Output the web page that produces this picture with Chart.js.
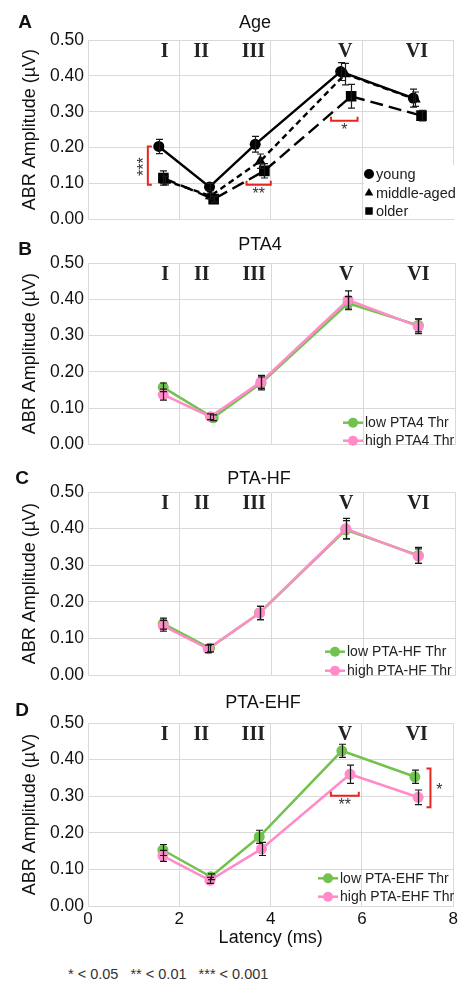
<!DOCTYPE html>
<html><head><meta charset="utf-8">
<script src="https://cdn.jsdelivr.net/npm/chart.js@4"></script>
<style>
body{margin:0;background:#fff;width:461px;height:983px;position:relative;overflow:hidden;font-family:"Liberation Sans",Arial,sans-serif;}
canvas{position:absolute;left:0;}
#note{position:absolute;left:68px;top:966px;font-size:14.5px;color:#333;white-space:pre;font-family:"Liberation Sans",Arial,sans-serif;}
</style></head><body>
<canvas id="cA" width="461" height="232" style="top:0px"></canvas>
<canvas id="cB" width="461" height="225" style="top:232px"></canvas>
<canvas id="cC" width="461" height="231" style="top:457px"></canvas>
<canvas id="cD" width="461" height="267" style="top:688px"></canvas>
<div id="note">* &lt; 0.05   ** &lt; 0.01   *** &lt; 0.001</div>
<script>
// ---- data ----
const peakLabels = ['I','II','III','V','VI'];
const peakLatency = [1.68, 2.48, 3.62, 5.63, 7.2];
const peakLabelLevel = 0.468;

// Panel A: Age
const youngX   = [1.55, 2.66, 3.66, 5.53, 7.12];
const youngY   = [0.203, 0.090, 0.209, 0.412, 0.338];
const youngErr = [0.020, 0.010, 0.022, 0.025, 0.025];
const middleX   = [1.69, 2.68, 3.77, 5.63, 7.16];
const middleY   = [0.108, 0.065, 0.162, 0.405, 0.335];
const middleErr = [0.012, 0.008, 0.020, 0.030, 0.020];
const olderX   = [1.65, 2.75, 3.86, 5.76, 7.30];
const olderY   = [0.115, 0.056, 0.135, 0.343, 0.289];
const olderErr = [0.020, 0.008, 0.020, 0.033, 0.015];

// Panel B: PTA4
const pta4LowX   = [1.64, 2.73, 3.77, 5.67, 7.20];
const pta4LowY   = [0.157, 0.073, 0.168, 0.389, 0.328];
const pta4LowErr = [0.012, 0.008, 0.018, 0.018, 0.018];
const pta4HighX   = [1.64, 2.67, 3.77, 5.67, 7.20];
const pta4HighY   = [0.137, 0.076, 0.172, 0.398, 0.325];
const pta4HighErr = [0.015, 0.008, 0.018, 0.025, 0.020];

// Panel C: PTA-HF
const hfLowX   = [1.64, 2.65, 3.74, 5.62, 7.20];
const hfLowY   = [0.141, 0.074, 0.170, 0.397, 0.327];
const hfLowErr = [0.015, 0.010, 0.018, 0.025, 0.022];
const hfHighX   = [1.64, 2.62, 3.74, 5.62, 7.20];
const hfHighY   = [0.135, 0.072, 0.170, 0.400, 0.325];
const hfHighErr = [0.015, 0.010, 0.018, 0.028, 0.020];

// Panel D: PTA-EHF
const ehfLowX   = [1.64, 2.69, 3.75, 5.56, 7.16];
const ehfLowY   = [0.153, 0.080, 0.189, 0.424, 0.353];
const ehfLowErr = [0.015, 0.008, 0.018, 0.018, 0.018];
const ehfHighX   = [1.64, 2.67, 3.80, 5.74, 7.23];
const ehfHighY   = [0.137, 0.070, 0.156, 0.360, 0.297];
const ehfHighErr = [0.015, 0.008, 0.018, 0.025, 0.020];

// significance markers (data units)
const sigA = [
  {type:'v', x:1.31, y1:0.203, y2:0.096, text:'***'},
  {type:'h', x1:3.47, x2:4.0, y:0.096, text:'**'},
  {type:'h', x1:5.32, x2:5.9, y:0.275, text:'*'}
];
const sigD = [
  {type:'h', x1:5.32, x2:5.93, y:0.301, text:'**'},
  {type:'v', x:7.5, y1:0.376, y2:0.270, text:'*', side:'right'}
];

const GREEN = '#72c24f', PINK = '#ff8cc8', RED = '#e8261f', INK = '#222';

function pts(xs, ys){ return xs.map((x,i)=>({x:x, y:ys[i]})); }

function drawMarker(ctx, style, x, y, r, color){
  ctx.save(); ctx.fillStyle = color; ctx.beginPath();
  if (style==='triangle'){
    ctx.moveTo(x, y - r); ctx.lineTo(x + r*0.866, y + r*0.5); ctx.lineTo(x - r*0.866, y + r*0.5); ctx.closePath();
  } else if (style==='rect'){
    ctx.rect(x - r*0.75, y - r*0.75, r*1.5, r*1.5);
  } else {
    ctx.arc(x, y, r, 0, Math.PI*2);
  }
  ctx.fill(); ctx.restore();
}

function makeExtras(cfg){
  return {
    id:'extras',
    beforeDatasetsDraw(chart){
      const ctx = chart.ctx, xs = chart.scales.x, ys = chart.scales.y;
      if (cfg.legendBox){
        ctx.save(); ctx.fillStyle = '#fff';
        const b = cfg.legendBox;
        ctx.fillRect(b[0], ys.getPixelForValue(b[1]), b[2]-b[0], ys.getPixelForValue(0) - ys.getPixelForValue(b[1]) - 0.5);
        ctx.restore();
      }
      ctx.save();
      ctx.font = 'bold 20px "Liberation Serif", "Times New Roman", serif';
      ctx.fillStyle = INK; ctx.textAlign = 'center'; ctx.textBaseline = 'middle';
      peakLabels.forEach((t,i)=>{
        ctx.fillText(t, xs.getPixelForValue(peakLatency[i]), ys.getPixelForValue(peakLabelLevel));
      });
      ctx.restore();
    },
    afterDatasetsDraw(chart){
      const ctx = chart.ctx, xs = chart.scales.x, ys = chart.scales.y;
      // error bars
      chart.data.datasets.forEach(ds=>{
        if (!ds.errors) return;
        ctx.save(); ctx.strokeStyle = '#1a1a1a'; ctx.lineWidth = 1.2;
        ds.data.forEach((p,j)=>{
          const px = Math.round(xs.getPixelForValue(p.x)) + 0.5;
          const y1 = ys.getPixelForValue(p.y + ds.errors[j]);
          const y2 = ys.getPixelForValue(p.y - ds.errors[j]);
          ctx.beginPath();
          ctx.moveTo(px, y1); ctx.lineTo(px, y2);
          ctx.moveTo(px-3.5, y1); ctx.lineTo(px+3.5, y1);
          ctx.moveTo(px-3.5, y2); ctx.lineTo(px+3.5, y2);
          ctx.stroke();
        });
        ctx.restore();
      });
      // significance brackets
      (cfg.sig || []).forEach(s=>{
        ctx.save();
        ctx.strokeStyle = RED; ctx.lineWidth = 2;
        ctx.fillStyle = '#333'; ctx.font = '16px "Liberation Sans", Arial, sans-serif';
        ctx.textAlign = 'center'; ctx.textBaseline = 'middle';
        if (s.type === 'v'){
          const px = xs.getPixelForValue(s.x), a = ys.getPixelForValue(s.y1), b = ys.getPixelForValue(s.y2);
          const d = s.side === 'right' ? -4 : 4;
          ctx.beginPath();
          ctx.moveTo(px + d, a); ctx.lineTo(px, a); ctx.lineTo(px, b); ctx.lineTo(px + d, b);
          ctx.stroke();
          if (s.side === 'right'){
            ctx.fillText(s.text, px + 9, (a+b)/2 + 3);
          } else {
            ctx.translate(px - 7, (a+b)/2 + 1);
            ctx.rotate(-Math.PI/2);
            ctx.fillText(s.text, 0, 4);
          }
        } else {
          const a = xs.getPixelForValue(s.x1), b = xs.getPixelForValue(s.x2), py = ys.getPixelForValue(s.y);
          ctx.beginPath();
          ctx.moveTo(a, py - 4); ctx.lineTo(a, py); ctx.lineTo(b, py); ctx.lineTo(b, py - 4);
          ctx.stroke();
          ctx.fillText(s.text, (a+b)/2, py + 10);
        }
        ctx.restore();
      });
      // legend
      if (cfg.legend){
        const L = cfg.legend;
        ctx.save();
        ctx.font = L.font; ctx.fillStyle = INK; ctx.textBaseline = 'middle'; ctx.textAlign = 'left';
        chart.data.datasets.forEach((ds,i)=>{
          const y = L.ys[i];
          if (L.lines){
            ctx.strokeStyle = ds.borderColor; ctx.lineWidth = 2.5;
            ctx.beginPath(); ctx.moveTo(L.lx1, y); ctx.lineTo(L.lx2, y); ctx.stroke();
            drawMarker(ctx, 'circle', (L.lx1+L.lx2)/2, y, 5, ds.backgroundColor);
          } else {
            drawMarker(ctx, ds.pointStyle, L.mx, y, 5, '#000');
          }
          ctx.fillStyle = INK;
          ctx.fillText(ds.label, L.tx, y + 0.5);
        });
        ctx.restore();
      }
    },
    afterDraw(chart){
      const ctx = chart.ctx;
      ctx.save();
      ctx.fillStyle = '#111'; ctx.textBaseline = 'middle';
      ctx.font = '18px "Liberation Sans", Arial, sans-serif'; ctx.textAlign = 'center';
      ctx.fillText(cfg.title, cfg.titleX, cfg.titleY);
      ctx.font = 'bold 19px "Liberation Sans", Arial, sans-serif';
      ctx.fillText(cfg.letter, cfg.letterX, cfg.letterY);
      ctx.restore();
    }
  };
}

function buildChart(id, datasets, cfg){
  const GRID = '#d9d9d9';
  new Chart(document.getElementById(id), {
    type: 'scatter',
    data: { datasets: datasets },
    options: {
      responsive: false, animation: false, devicePixelRatio: 1,
      layout: { padding: { left: 15, right: 6, top: cfg.padTop, bottom: 0 } },
      plugins: { legend: { display: false }, tooltip: { enabled: false } },
      scales: {
        x: {
          type: 'linear', min: 0, max: 8,
          grid: { color: GRID, drawTicks: false, lineWidth: 1 },
          border: { color: GRID },
          ticks: { display: cfg.showX, stepSize: 2, padding: 3, color: '#111',
                   font: { size: 17, family: '"Liberation Sans", Arial, sans-serif', lineHeight: 1.2 } },
          title: { display: cfg.showX, text: 'Latency (ms)', color: '#111',
                   font: { size: 18, family: '"Liberation Sans", Arial, sans-serif' },
                   padding: { top: 0, bottom: 6 } },
          afterFit: s => { s.height = cfg.xH; }
        },
        y: {
          type: 'linear', min: 0, max: 0.5,
          grid: { color: GRID, drawTicks: false, lineWidth: 1 },
          border: { color: GRID },
          ticks: { stepSize: 0.05, padding: 4, color: '#111',
                   font: { size: 17.5, family: '"Liberation Sans", Arial, sans-serif', lineHeight: 1 },
                   callback: v => (Math.round(v*100) % 10 === 0) ? v.toFixed(2) : '' },
          title: { display: true, text: 'ABR Amplitude (µV)', color: '#111',
                   font: { size: 18, family: '"Liberation Sans", Arial, sans-serif' },
                   padding: { top: 4, bottom: 4 } },
          afterFit: s => { s.width = 73; }
        }
      }
    },
    plugins: [makeExtras(cfg)]
  });
}

function ageSet(label, xs, ys, errs, style, dash, r){
  return { label: label, data: pts(xs, ys), errors: errs, showLine: true,
           borderColor: '#000', backgroundColor: '#000', borderWidth: 2.4, borderDash: dash,
           pointStyle: style, pointRadius: r, pointBorderWidth: 0, pointBackgroundColor: '#000' };
}
function pairSet(label, xs, ys, errs, color, order){
  return { label: label, data: pts(xs, ys), errors: errs, showLine: true, order: order,
           borderColor: color, backgroundColor: color, borderWidth: 2.5,
           pointStyle: 'circle', pointRadius: 5.5, pointBorderWidth: 0, pointBackgroundColor: color };
}

buildChart('cA', [
  ageSet('young', youngX, youngY, youngErr, 'circle', [], 5.5),
  ageSet('middle-aged', middleX, middleY, middleErr, 'triangle', [6, 4], 6.5),
  ageSet('older', olderX, olderY, olderErr, 'rect', [13, 6], 7.5)
], { padTop: 40, xH: 10, showX: false, title: 'Age', titleX: 255, titleY: 23, letter: 'A', letterX: 25, letterY: 23,
     sig: sigA, legendBox: [364, 0.152, 455],
     legend: { lines: false, font: '14.5px "Liberation Sans", Arial, sans-serif', mx: 369, tx: 376, ys: [174, 193, 211] } });

buildChart('cB', [
  pairSet('low PTA4 Thr', pta4LowX, pta4LowY, pta4LowErr, GREEN, 1),
  pairSet('high PTA4 Thr', pta4HighX, pta4HighY, pta4HighErr, PINK, 0)
], { padTop: 31, xH: 10, showX: false, title: 'PTA4', titleX: 260, titleY: 13, letter: 'B', letterX: 25, letterY: 18,
     legend: { lines: true, font: '14px "Liberation Sans", Arial, sans-serif', lx1: 343, lx2: 363, tx: 365, ys: [190.7, 208.7] } });

buildChart('cC', [
  pairSet('low PTA-HF Thr', hfLowX, hfLowY, hfLowErr, GREEN, 1),
  pairSet('high PTA-HF Thr', hfHighX, hfHighY, hfHighErr, PINK, 0)
], { padTop: 35, xH: 10, showX: false, title: 'PTA-HF', titleX: 259, titleY: 22, letter: 'C', letterX: 22, letterY: 22,
     legend: { lines: true, font: '14px "Liberation Sans", Arial, sans-serif', lx1: 325, lx2: 345, tx: 347, ys: [194.7, 213.7] } });

buildChart('cD', [
  pairSet('low PTA-EHF Thr', ehfLowX, ehfLowY, ehfLowErr, GREEN, 1),
  pairSet('high PTA-EHF Thr', ehfHighX, ehfHighY, ehfHighErr, PINK, 0)
], { padTop: 35, xH: 49, showX: true, title: 'PTA-EHF', titleX: 263, titleY: 15, letter: 'D', letterX: 22, letterY: 23,
     sig: sigD,
     legend: { lines: true, font: '14px "Liberation Sans", Arial, sans-serif', lx1: 318, lx2: 338, tx: 340, ys: [190.3, 208.7] } });
</script>
</body></html>
